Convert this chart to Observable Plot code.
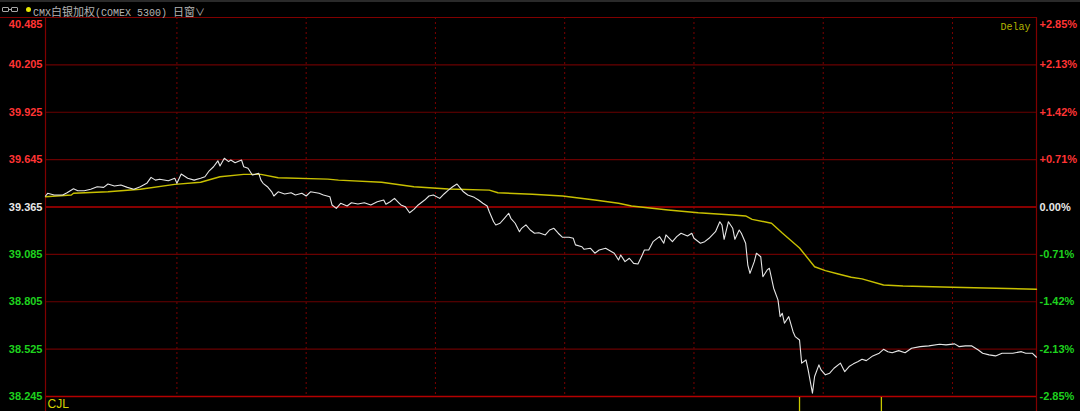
<!DOCTYPE html>
<html><head><meta charset="utf-8">
<script src="https://cdn.jsdelivr.net/npm/d3@7"></script>
<script src="https://cdn.jsdelivr.net/npm/@observablehq/plot@0.6"></script>
<style>
html,body{margin:0;padding:0;background:#000;overflow:hidden}
#wrap{position:relative;width:1080px;height:411px;background:#000}
#hdr{position:absolute;left:0;top:0;width:1080px;height:17px;border-top:2px solid #2a2a2a;box-sizing:border-box;z-index:2;color:#b4b4b4;white-space:nowrap}
.ic{position:absolute;top:5px;width:5px;height:3px;border:1px solid #a8a8a8;border-radius:1px}
.icl{position:absolute;top:7px;left:8px;width:4px;height:1px;background:#a8a8a8}
.dot{position:absolute;left:26px;top:5px;width:5px;height:5px;border-radius:50%;background:#e6e600}
.t{position:absolute;top:1px;line-height:14px}
.lat{font:10px "Liberation Mono",monospace}
.cjk{font:11px "Noto Sans CJK SC",sans-serif}
</style></head>
<body><div id="wrap">
<div id="hdr">
  <div class="ic" style="left:2px"></div><div class="icl"></div><div class="ic" style="left:11px"></div>
  <div class="dot"></div>
  <div class="t" style="left:33px"><span class="lat">CMX</span><span class="cjk">白银加权</span><span class="lat">(COMEX 5300)</span></div>
  <div class="t" style="left:173px"><span class="cjk">日窗</span><span class="cjk" style="font-size:10px">∨</span></div>
</div>
</div>
<script>
// price axis ticks (left) and percentage labels (right)
const priceTicks = [40.485, 40.205, 39.925, 39.645, 39.365, 39.085, 38.805, 38.525, 38.245];
const pctLabels = ["+2.85%", "+2.13%", "+1.42%", "+0.71%", "0.00%", "-0.71%", "-1.42%", "-2.13%", "-2.85%"];
const basePrice = 39.365;
// hour markers (minutes from start) and volume ticks
const hourTicks = [61, 121, 181, 241, 301, 361, 421];
const volumeTicks = [350, 388];
// real-time price [minute, price]
const priceLine = [
[0,39.430],[1,39.446],[4,39.436],[8,39.436],[10,39.449],[13,39.473],[15,39.461],[18,39.461],[21,39.470],[24,39.485],
[27,39.481],[29,39.501],[32,39.489],[35,39.495],[38,39.481],[41,39.470],[44,39.485],[47,39.505],[49,39.540],[51,39.524],
[53,39.529],[57,39.520],[60,39.535],[61,39.505],[63,39.560],[66,39.535],[69,39.524],[72,39.535],[74,39.544],[76,39.579],
[78,39.603],[80,39.638],[81,39.607],[83,39.653],[85,39.633],[86,39.643],[88,39.627],[91,39.643],[92,39.603],[94,39.594],
[96,39.554],[99,39.564],[100,39.524],[101,39.505],[103,39.485],[105,39.455],[106,39.430],[108,39.455],[111,39.442],[114,39.449],
[116,39.436],[119,39.446],[121,39.430],[123,39.455],[127,39.446],[129,39.436],[132,39.426],[133,39.377],[135,39.357],[137,39.387],
[140,39.371],[142,39.390],[145,39.383],[148,39.390],[151,39.377],[154,39.396],[157,39.406],[158,39.381],[160,39.396],[162,39.416],
[164,39.390],[165,39.377],[167,39.367],[169,39.331],[171,39.351],[173,39.377],[176,39.406],[178,39.430],[180,39.436],[183,39.416],
[185,39.442],[187,39.465],[189,39.485],[191,39.501],[192,39.485],[194,39.455],[196,39.436],[199,39.422],[201,39.406],[203,39.387],
[205,39.371],[206,39.337],[208,39.278],[209,39.259],[211,39.269],[213,39.298],[215,39.328],[216,39.298],[218,39.269],[220,39.219],
[221,39.239],[223,39.259],[225,39.229],[227,39.210],[229,39.213],[232,39.200],[234,39.229],[236,39.239],[238,39.210],[240,39.186],
[243,39.186],[245,39.180],[246,39.141],[249,39.130],[250,39.115],[253,39.121],[255,39.092],[257,39.111],[260,39.121],[262,39.107],
[264,39.092],[266,39.052],[267,39.081],[269,39.042],[271,39.062],[273,39.032],[275,39.028],[277,39.081],[278,39.111],[280,39.111],
[282,39.160],[285,39.190],[287,39.151],[288,39.200],[291,39.160],[293,39.190],[295,39.210],[298,39.194],[300,39.210],[301,39.180],
[304,39.151],[306,39.160],[308,39.180],[311,39.219],[313,39.278],[314,39.259],[315,39.174],[317,39.278],[319,39.239],[320,39.174],
[322,39.229],[323,39.210],[325,39.151],[326,39.022],[327,38.973],[329,39.042],[330,39.092],[332,39.071],[333,38.953],[335,38.993],
[336,39.003],[338,38.885],[340,38.816],[341,38.717],[342,38.737],[343,38.678],[345,38.717],[347,38.628],[348,38.599],[350,38.579],
[351,38.442],[353,38.461],[354,38.402],[356,38.265],[357,38.363],[359,38.432],[360,38.402],[362,38.373],[364,38.383],[366,38.412],
[369,38.442],[371,38.392],[373,38.422],[375,38.438],[377,38.451],[379,38.465],[381,38.457],[384,38.485],[387,38.501],[389,38.524],
[391,38.510],[393,38.504],[396,38.516],[399,38.504],[402,38.530],[406,38.540],[410,38.544],[415,38.554],[418,38.550],[422,38.556],
[424,38.540],[427,38.544],[430,38.544],[433,38.520],[435,38.501],[438,38.491],[441,38.485],[444,38.501],[449,38.501],[453,38.510],
[455,38.501],[458,38.501],[460,38.477]
];
// average price line [minute, price]
const avgLine = [
[0,39.426],[12,39.436],[13,39.446],[29,39.455],[44,39.470],[60,39.499],[72,39.511],[81,39.544],[92,39.558],[100,39.558],
[108,39.538],[131,39.530],[136,39.524],[156,39.511],[171,39.485],[187,39.471],[206,39.465],[210,39.449],[226,39.440],[240,39.430],
[255,39.406],[266,39.387],[272,39.371],[289,39.347],[303,39.331],[319,39.318],[325,39.312],[328,39.292],[337,39.269],[342,39.211],
[350,39.123],[357,39.012],[362,38.989],[368,38.969],[374,38.950],[379,38.940],[389,38.904],[398,38.898],[421,38.891],[460,38.879]
];

const RED = "#ff3434", GREEN = "#1ed21e", WHITE = "#e8e8e8";
const col = v => v > basePrice ? RED : v < basePrice ? GREEN : WHITE;
const topPrice = priceTicks[0], bottomPrice = priceTicks[priceTicks.length - 1];
const idx = d3.range(priceTicks.length);
const labelFont = {fontFamily: "Liberation Sans, Arial, sans-serif", fontSize: 11, fontWeight: "bold"};

const chart = Plot.plot({
  width: 1080, height: 411,
  marginLeft: 45, marginRight: 44, marginTop: 17, marginBottom: 15,
  style: {background: "#000", overflow: "visible"},
  x: {domain: [0, 460], axis: null},
  y: {domain: [bottomPrice, topPrice], axis: null},
  marks: [
    Plot.ruleX(hourTicks, {stroke: "#7a0000", strokeDasharray: "2,3"}),
    Plot.ruleY(priceTicks.filter(d => d !== basePrice && d !== topPrice && d !== bottomPrice), {stroke: "#6a0000", strokeWidth: 1.2}),
    Plot.ruleY([topPrice], {stroke: "#800000", strokeWidth: 1.2, insetLeft: -45}),
    Plot.ruleY([basePrice, bottomPrice], {stroke: "#b40000", strokeWidth: 1.5}),
    Plot.ruleX([0, 460], {stroke: "#800000", strokeWidth: 1.2, insetBottom: -15}),
    Plot.ruleX(volumeTicks, {stroke: "#c8c800", strokeWidth: 1.3, insetTop: 380, insetBottom: -15}),
    Plot.line(avgLine, {x: d => d[0], y: d => d[1], stroke: "#c8c000", strokeWidth: 1.4}),
    Plot.line(priceLine, {x: d => d[0], y: d => d[1], stroke: "#e6e6e6", strokeWidth: 1.1}),
    Plot.text(idx.slice(1), {y: i => priceTicks[i], text: i => priceTicks[i].toFixed(3), frameAnchor: "left", textAnchor: "end", dx: -3, fill: i => col(priceTicks[i]), ...labelFont}),
    Plot.text([0], {y: i => priceTicks[i], text: i => priceTicks[i].toFixed(3), frameAnchor: "left", textAnchor: "end", dx: -3, dy: 7, fill: i => col(priceTicks[i]), ...labelFont}),
    Plot.text(idx.slice(1), {y: i => priceTicks[i], text: i => pctLabels[i], frameAnchor: "right", textAnchor: "start", dx: 3, fill: i => col(priceTicks[i]), ...labelFont}),
    Plot.text([0], {y: i => priceTicks[i], text: i => pctLabels[i], frameAnchor: "right", textAnchor: "start", dx: 3, dy: 7, fill: i => col(priceTicks[i]), ...labelFont}),
    Plot.text(["Delay"], {text: d => d, frameAnchor: "top-right", textAnchor: "end", lineAnchor: "middle", dx: -6, dy: 9, fill: "#b4b400", fontFamily: "Liberation Mono, monospace", fontSize: 10}),
    Plot.text(["CJL"], {text: d => d, frameAnchor: "bottom-left", textAnchor: "start", lineAnchor: "middle", dx: 2, dy: 8, fill: "#d2d200", fontFamily: "Liberation Sans, Arial, sans-serif", fontSize: 12})
  ]
});
document.getElementById("wrap").appendChild(chart);
</script>
</body></html>
